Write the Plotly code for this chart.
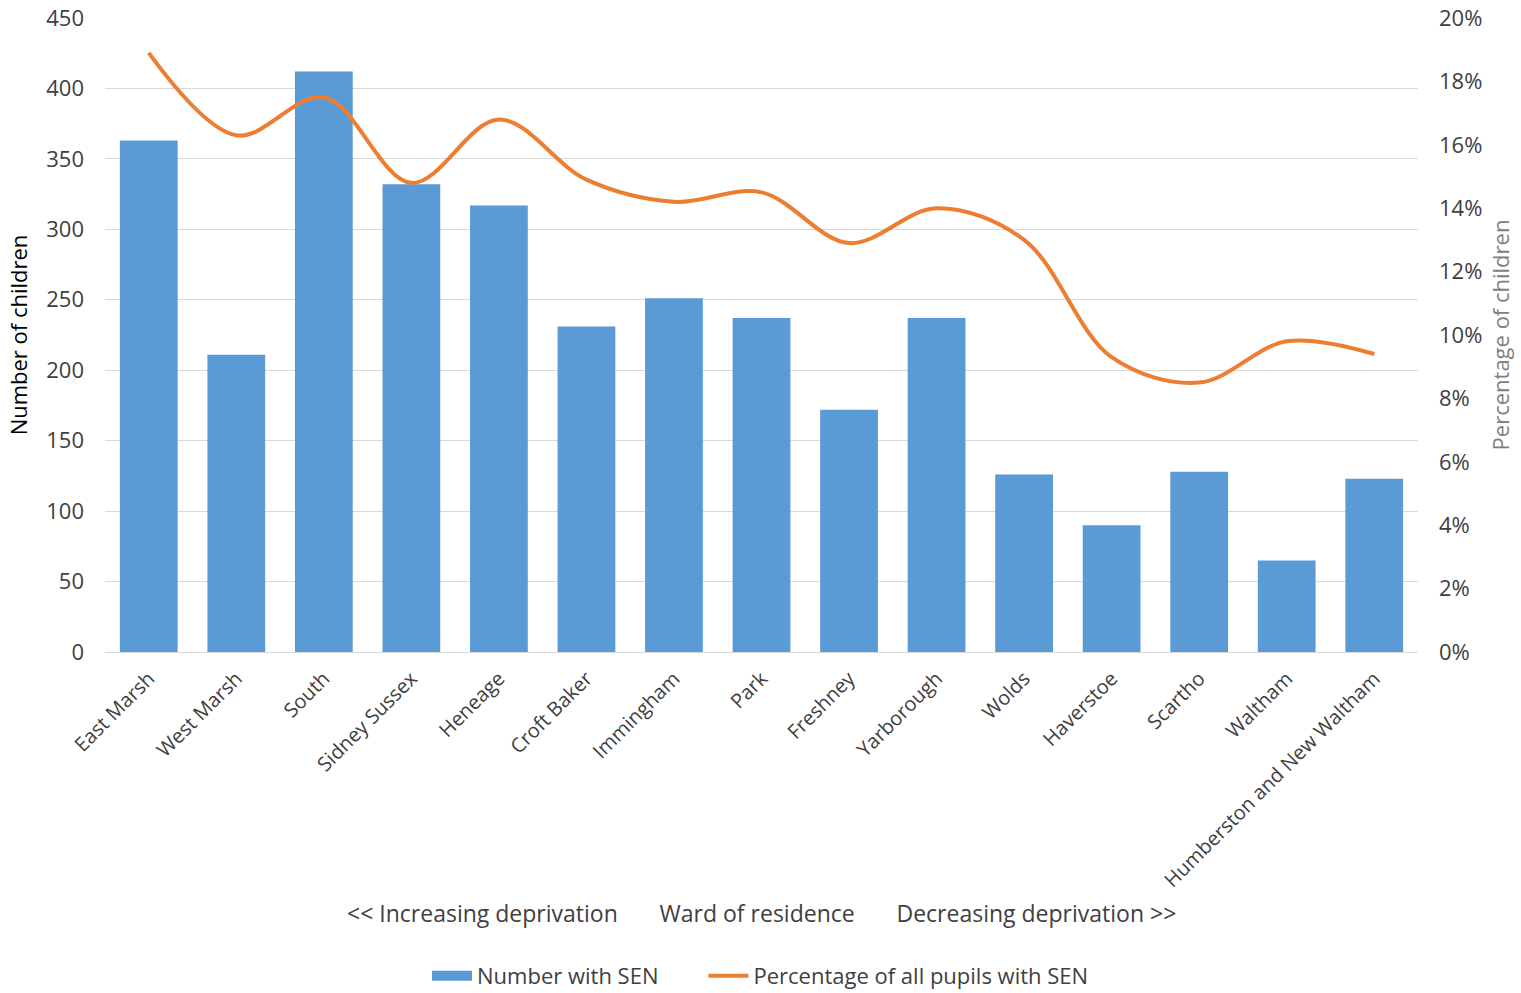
import plotly.graph_objects as go

wards = ["East Marsh", "West Marsh", "South", "Sidney Sussex", "Heneage", "Croft Baker",
         "Immingham", "Park", "Freshney", "Yarborough", "Wolds", "Haverstoe", "Scartho",
         "Waltham", "Humberston and New Waltham"]
number_with_sen = [363, 211, 412, 332, 317, 231, 251, 237, 172, 237, 126, 90, 128, 65, 123]
pct_with_sen = [18.9, 16.3, 17.5, 14.8, 16.8, 14.9, 14.2, 14.5, 12.9, 14.0, 13.0, 9.3, 8.5, 9.8, 9.4]

FONT = "Open Sans"
BLUE = "#5B9BD5"
ORANGE = "#ED7D31"
GRID = "#D9D9D9"
TXT = "#404040"

fig = go.Figure()
fig.add_trace(go.Bar(
    x=wards, y=number_with_sen, name="Number with SEN",
    marker=dict(color=BLUE, line=dict(width=0)), yaxis="y", showlegend=False,
))
# legend key for the bars: a wide blue block like a bar swatch
fig.add_trace(go.Scatter(
    x=[None], y=[None], name="Number with SEN" + "\u00a0" * 7, mode="lines",
    line=dict(color=BLUE, width=13), yaxis="y",
))
fig.add_trace(go.Scatter(
    x=wards, y=[p / 100 for p in pct_with_sen], name="Percentage of all pupils with SEN",
    mode="lines", line=dict(color=ORANGE, width=4, shape="spline", smoothing=1.0),
    yaxis="y2",
))

gap = "\u00a0" * 7
fig.update_layout(
    width=1521, height=993,
    margin=dict(l=105, r=103, t=18, b=341),
    paper_bgcolor="white", plot_bgcolor="white",
    font=dict(family=FONT, color=TXT, size=18),
    bargap=0.34,
    showlegend=True,
    legend=dict(orientation="h", x=0.5, xanchor="center", xref="container",
                y=(993 - 976) / 993, yanchor="middle", yref="container",
                font=dict(size=22, color=TXT), itemwidth=40, tracegroupgap=0),
    xaxis=dict(
        tickangle=-45, tickfont=dict(size=20, color=TXT), showgrid=False,
        showline=True, linecolor=GRID, linewidth=1, ticks="", automargin=False,
        ticklabelstandoff=6,
    ),
    yaxis=dict(
        range=[0, 450], dtick=50, tickfont=dict(size=22, color=TXT),
        gridcolor=GRID, gridwidth=1, zeroline=False, showline=False, automargin=False,
        ticklabelstandoff=20,
        title=dict(text="Number of children", font=dict(size=22, color="#000000"), standoff=12),
    ),
    yaxis2=dict(
        range=[0, 0.20], dtick=0.02, tickformat=".0%", overlaying="y", side="right",
        tickfont=dict(size=22, color=TXT), showgrid=False, zeroline=False, automargin=False,
        ticklabelstandoff=20,
        title=dict(text="Percentage of children", font=dict(size=22, color="#808080"), standoff=12),
    ),
    annotations=[dict(
        text=f"<< Increasing deprivation{gap}Ward of residence{gap}Decreasing deprivation >>",
        xref="paper", yref="paper", x=0.5, y=(652 - 913) / 634, xanchor="center", yanchor="middle",
        showarrow=False, font=dict(size=23, color=TXT),
    )],
)

fig.write_html("out.html")
